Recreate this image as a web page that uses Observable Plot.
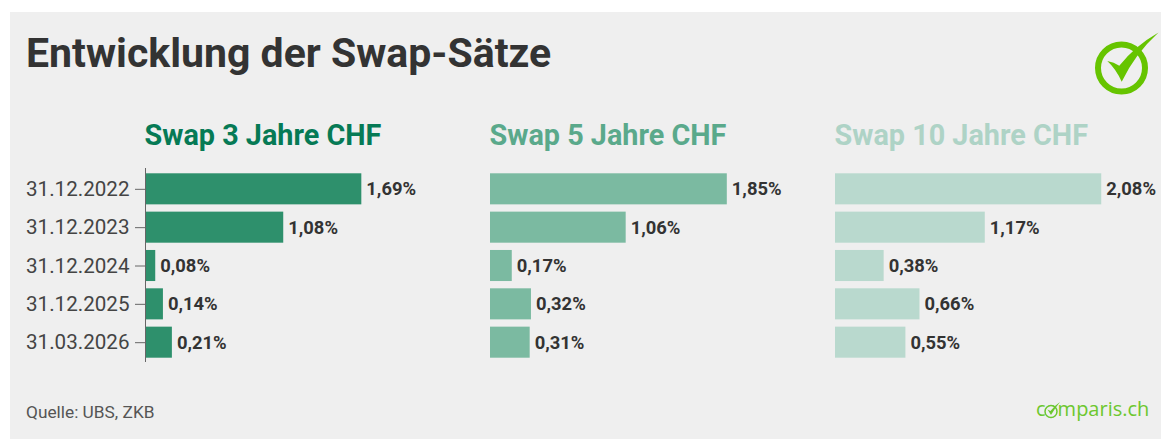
<!DOCTYPE html>
<html lang="de">
<head>
<meta charset="utf-8">
<script src="https://cdn.jsdelivr.net/npm/d3@7"></script>
<script src="https://cdn.jsdelivr.net/npm/@observablehq/plot@0.6"></script>
<style>
html,body{margin:0;padding:0;background:#fff;overflow:hidden}
#page{position:relative;width:1161px;height:439px;overflow:hidden;font-family:Roboto,sans-serif}
#panel{position:absolute;left:10px;top:12px;right:0;bottom:0;background:#efefef}
#title{position:absolute;left:26px;top:28px;margin:0;font-size:41px;line-height:50px;font-weight:700;color:#333;white-space:nowrap}
#chart{position:absolute;left:0;top:110px}
#chart svg{background:transparent;overflow:visible}
#source{position:absolute;left:26px;top:402px;font-size:17.3px;line-height:20px;color:#555}
#brand{position:absolute;left:1036px;top:394px;font-family:"Open Sans",sans-serif;font-size:20px;line-height:30px;color:#6cc72e;white-space:nowrap}
.logo{position:absolute;left:0;top:0;pointer-events:none}
</style>
</head>
<body>
<div id="page">
  <div id="panel"></div>
  <h1 id="title">Entwicklung der Swap-Sätze</h1>
  <div id="chart"></div>
  <div id="source">Quelle: UBS, ZKB</div>
  <div id="brand">comparis.ch</div>
  <svg class="logo" width="1161" height="439" aria-hidden="true">
    <circle cx="1121.5" cy="68" r="23.5" fill="none" stroke="#66c400" stroke-width="6"/>
    <path d="M1107.3 61 Q1114 62 1119.3 65.7 Q1135 46 1158.5 32.5 Q1135 54 1121.7 81.7 Q1116 69 1107.3 61Z" fill="#66c400"/>
    <circle cx="1051" cy="411.5" r="6" fill="#efefef" stroke="#6cc72e" stroke-width="1.5"/>
    <path d="M1047.5 409.5 L1050.5 411 Q1054 406 1060 402 Q1055 408 1051 415Z" fill="#6cc72e"/>
  </svg>
</div>
<script>
const dates = ["31.12.2022", "31.12.2023", "31.12.2024", "31.12.2025", "31.03.2026"];
const seriesNames = ["Swap 3 Jahre CHF", "Swap 5 Jahre CHF", "Swap 10 Jahre CHF"];
const swap3 = [1.69, 1.08, 0.08, 0.14, 0.21];
const swap5 = [1.85, 1.06, 0.17, 0.32, 0.31];
const swap10 = [2.08, 1.17, 0.38, 0.66, 0.55];
const barColors = ["#2e906c", "#7bbaa1", "#b9d9ce"];
const headColors = ["#067a55", "#5aa98b", "#aed3c6"];

const columns = [swap3, swap5, swap10];
const rows = seriesNames.flatMap((s, i) => dates.map((d, j) => ({series: s, date: d, value: columns[i][j]})));
const heads = seriesNames.map((s, i) => ({series: s, color: headColors[i]}));
const pct = v => v.toFixed(2).replace(".", ",") + "%";

const chart = Plot.plot({
  width: 1161,
  height: 252,
  marginTop: 58,
  marginBottom: 0,
  marginLeft: 145,
  marginRight: 0,
  style: {background: "transparent", fontFamily: "Roboto, sans-serif"},
  fx: {domain: seriesNames, range: [145, 1180], padding: 0, axis: null, label: null},
  x: {domain: [0, 345 / 128], range: [145, 490], axis: null},
  y: {domain: dates, range: [58.5, 252.5], round: false, paddingInner: 0.19, paddingOuter: 0.125, axis: null},
  color: {domain: seriesNames, range: barColors},
  marks: [
    Plot.barX(rows, {fx: "series", y: "date", x: "value", fill: "series"}),
    Plot.ruleX([0], {fx: () => seriesNames[0], stroke: "#666", strokeWidth: 1}),
    Plot.axisY({
      anchor: "left",
      label: null,
      tickSize: 10,
      tickPadding: 6,
      fontSize: 20.6,
      stroke: "#666",
      color: "#444"
    }),
    Plot.text(rows, {
      fx: "series",
      y: "date",
      x: "value",
      text: d => pct(d.value),
      textAnchor: "start",
      dx: 4.5,
      fontSize: 18.4,
      fontWeight: 700,
      fill: "#333"
    }),
    Plot.text(heads, {
      fx: "series",
      text: "series",
      frameAnchor: "top-left",
      textAnchor: "start",
      dx: -1,
      dy: -44,
      fontSize: 28.8,
      fontWeight: 700,
      fill: "color"
    })
  ]
});
document.getElementById("chart").append(chart);
</script>
</body>
</html>
